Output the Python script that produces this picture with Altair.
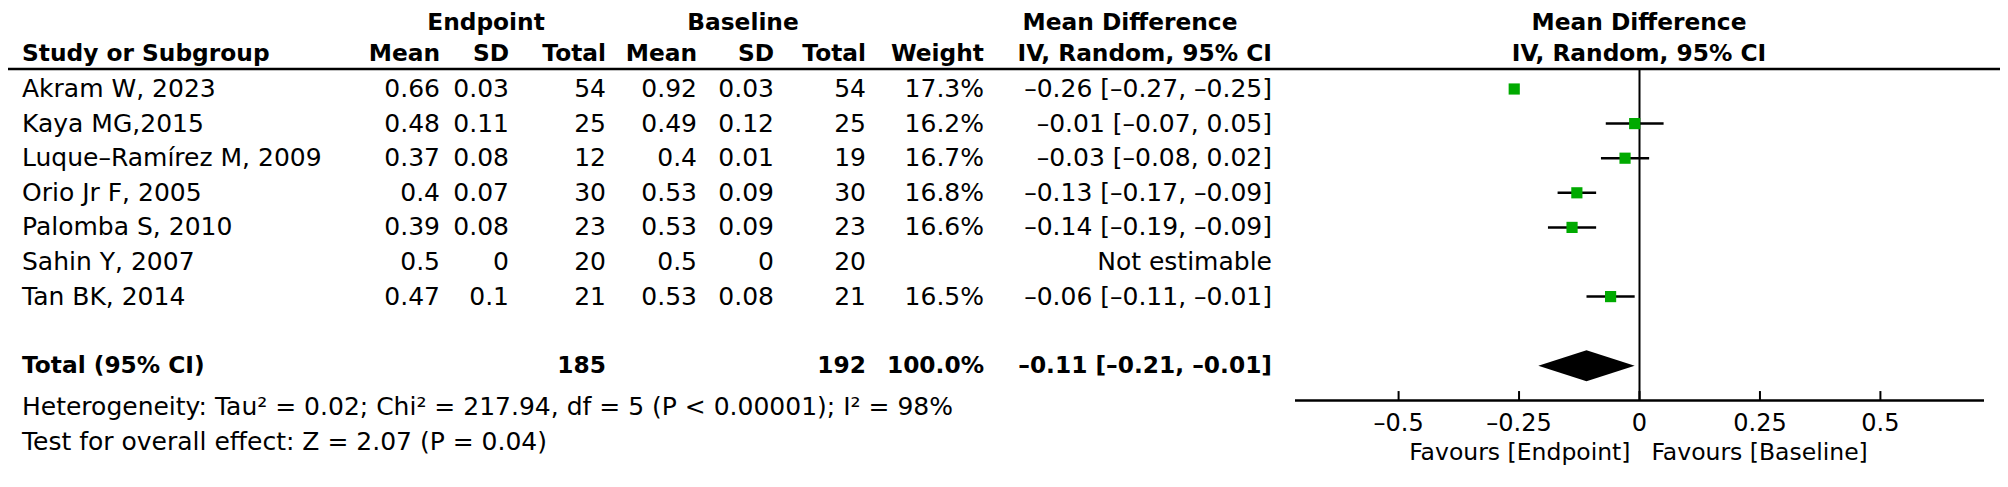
import altair as alt
import pandas as pd

# ---------------- data ----------------
studies = ["Akram W, 2023", "Kaya MG,2015", "Luque–Ramírez M, 2009", "Orio Jr F, 2005",
           "Palomba S, 2010", "Sahin Y, 2007", "Tan BK, 2014"]
e_mean = [0.66, 0.48, 0.37, 0.4, 0.39, 0.5, 0.47]
e_sd = [0.03, 0.11, 0.08, 0.07, 0.08, 0, 0.1]
e_n = [54, 25, 12, 30, 23, 20, 21]
b_mean = [0.92, 0.49, 0.4, 0.53, 0.53, 0.5, 0.53]
b_sd = [0.03, 0.12, 0.01, 0.09, 0.09, 0, 0.08]
b_n = [54, 25, 19, 30, 23, 20, 21]
weight = [17.3, 16.2, 16.7, 16.8, 16.6, None, 16.5]
md = [-0.26, -0.01, -0.03, -0.13, -0.14, None, -0.06]
md_lo = [-0.27, -0.07, -0.08, -0.17, -0.19, None, -0.11]
md_hi = [-0.25, 0.05, 0.02, -0.09, -0.09, None, -0.01]

total_label = "Total (95% CI)"
total_e_n = 185
total_b_n = 192
total_weight = 100.0
pooled = [-0.11]
pooled_lo = [-0.21]
pooled_hi = [-0.01]

het_text = "Heterogeneity: Tau² = 0.02; Chi² = 217.94, df = 5 (P < 0.00001); I² = 98%"
effect_text = "Test for overall effect: Z = 2.07 (P = 0.04)"

tick_values = [-0.5, -0.25, 0, 0.25, 0.5]
tick_labels = ["–0.5", "–0.25", "0", "0.25", "0.5"]
favours = ["Favours [Endpoint]", "Favours [Baseline]"]
axis_domain = [-0.715, 0.715]

# ---------------- layout ----------------
W, H = 1992, 471
FONT = "DejaVu Sans"
FS = 25
FS_BOLD = 23.3
FS_AX = 24
FS_FAV = 23.5


def P(x):
    return x - 8


def dash(s):
    return s.replace("-", "–")


def ci_text(m, lo, hi):
    if m is None:
        return "Not estimable"
    return dash(f"{m:.2f} [{lo:.2f}, {hi:.2f}]")


rows = list(range(len(studies)))
df = pd.DataFrame({
    "row": rows,
    "study": studies,
    "e_mean": [str(v) for v in e_mean],
    "e_sd": [str(v) for v in e_sd],
    "e_n": [str(v) for v in e_n],
    "b_mean": [str(v) for v in b_mean],
    "b_sd": [str(v) for v in b_sd],
    "b_n": [str(v) for v in b_n],
    "weight": ["" if w is None else f"{w:.1f}%" for w in weight],
    "ci": [ci_text(m, l, h) for m, l, h in zip(md, md_lo, md_hi)],
})
forest = pd.DataFrame({"row": rows, "md": md, "lo": md_lo, "hi": md_hi, "w": weight}).dropna()

ys = alt.Scale(domain=[0, 10], range=[P(89), P(435)], nice=False, zero=False)
xs = alt.Scale(domain=axis_domain, range=[P(1295), P(1984)], nice=False, zero=False)

Y = alt.Y("row:Q", scale=ys, axis=None)


def text_col(data, field, xpos, align="right", bold=False):
    return alt.Chart(data).mark_text(
        align=align, baseline="middle", font=FONT,
        fontSize=FS_BOLD if bold else FS,
        fontWeight="bold" if bold else "normal", color="black"
    ).encode(x=alt.value(P(xpos)), y=Y, text=f"{field}:N")


def single(text, row, xpos, align="right", bold=False):
    d = pd.DataFrame({"row": [row], "t": [text]})
    return text_col(d, "t", xpos, align, bold)


R_H1, R_H2, R_LINE = -1.92, -1.02, -0.58
R_TOT, R_AXIS = 8, 9.0
R_HET, R_EFF = 9.2, 10.2
R_TICKLAB, R_FAV = 9.67, 10.52

cols = {
    "e_mean": 440, "e_sd": 509, "e_n": 606,
    "b_mean": 697, "b_sd": 774, "b_n": 866,
    "weight": 984, "ci": 1272,
}

layers = []
# headers
layers.append(single("Endpoint", R_H1, 486, "center", True))
layers.append(single("Baseline", R_H1, 743, "center", True))
layers.append(single("Mean Difference", R_H1, 1130, "center", True))
layers.append(single("Mean Difference", R_H1, 1639, "center", True))
layers.append(single("Study or Subgroup", R_H2, 22, "left", True))
for key, lab in [("e_mean", "Mean"), ("e_sd", "SD"), ("e_n", "Total"),
                 ("b_mean", "Mean"), ("b_sd", "SD"), ("b_n", "Total"),
                 ("weight", "Weight"), ("ci", "IV, Random, 95% CI")]:
    layers.append(single(lab, R_H2, cols[key], "right", True))
layers.append(single("IV, Random, 95% CI", R_H2, 1639, "center", True))

# header separator
sep = pd.DataFrame({"row": [R_LINE]})
layers.append(alt.Chart(sep).mark_rule(color="black", strokeWidth=2.4).encode(
    x=alt.value(0), x2=alt.value(W), y=Y))

# study rows
layers.append(text_col(df, "study", 22, "left"))
for key, xpos in cols.items():
    layers.append(text_col(df, key, xpos, "right"))

# total row
layers.append(single(total_label, R_TOT, 22, "left", True))
layers.append(single(str(total_e_n), R_TOT, cols["e_n"], "right", True))
layers.append(single(str(total_b_n), R_TOT, cols["b_n"], "right", True))
layers.append(single(f"{total_weight:.1f}%", R_TOT, cols["weight"], "right", True))
layers.append(single(ci_text(pooled[0], pooled_lo[0], pooled_hi[0]), R_TOT, cols["ci"], "right", True))

# footnotes
layers.append(single(het_text, R_HET, 22, "left"))
layers.append(single(effect_text, R_EFF, 22, "left"))

X = lambda f: alt.X(f"{f}:Q", scale=xs, axis=None)

# zero line
zero = pd.DataFrame({"x": [0], "y1": [R_LINE], "y2": [R_AXIS]})
layers.append(alt.Chart(zero).mark_rule(color="black", strokeWidth=2).encode(
    x=X("x"), y=alt.Y("y1:Q", scale=ys, axis=None), y2="y2:Q"))

# CI whiskers and squares
layers.append(alt.Chart(forest).mark_rule(color="black", strokeWidth=2.5).encode(
    x=X("lo"), x2="hi:Q", y=Y))
layers.append(alt.Chart(forest).mark_square(color="#00AA00", size=125, opacity=1).encode(
    x=X("md"), y=Y))

# pooled diamond
half = 0.45
dia = pd.DataFrame({
    "x": [pooled_lo[0], pooled[0], pooled_hi[0]],
    "top": [R_TOT, R_TOT - half, R_TOT],
    "bot": [R_TOT, R_TOT + half, R_TOT],
})
layers.append(alt.Chart(dia).mark_area(color="black", orient="vertical", opacity=1).encode(
    x=X("x"), y=alt.Y("top:Q", scale=ys, axis=None), y2="bot:Q"))

# axis
ax = pd.DataFrame({"x1": [axis_domain[0]], "x2": [axis_domain[1]], "row": [R_AXIS]})
layers.append(alt.Chart(ax).mark_rule(color="black", strokeWidth=2.5).encode(
    x=X("x1"), x2="x2:Q", y=Y))
ticks = pd.DataFrame({"x": tick_values, "lab": tick_labels,
                      "y1": [R_AXIS - 0.27] * len(tick_values), "y2": [R_AXIS] * len(tick_values),
                      "row": [R_TICKLAB] * len(tick_values)})
layers.append(alt.Chart(ticks).mark_rule(color="black", strokeWidth=2).encode(
    x=X("x"), y=alt.Y("y1:Q", scale=ys, axis=None), y2="y2:Q"))
layers.append(alt.Chart(ticks).mark_text(align="center", baseline="middle", font=FONT,
                                         fontSize=FS_AX, color="black").encode(
    x=X("x"), y=Y, text="lab:N"))

fav = pd.DataFrame({"x": [0, 0], "row": [R_FAV, R_FAV], "t": favours})
layers.append(alt.Chart(fav.iloc[[0]]).mark_text(align="right", baseline="middle", font=FONT,
                                                 fontSize=FS_FAV, color="black", dx=-9).encode(
    x=X("x"), y=Y, text="t:N"))
layers.append(alt.Chart(fav.iloc[[1]]).mark_text(align="left", baseline="middle", font=FONT,
                                                 fontSize=FS_FAV, color="black", dx=12).encode(
    x=X("x"), y=Y, text="t:N"))

chart = alt.layer(*layers).properties(
    width=W, height=H, padding=0,
    autosize=alt.AutoSizeParams(type="none"),
    background="white",
).configure_view(stroke=None)

chart.save("out.html", embed_options={"renderer": "svg", "actions": False})
